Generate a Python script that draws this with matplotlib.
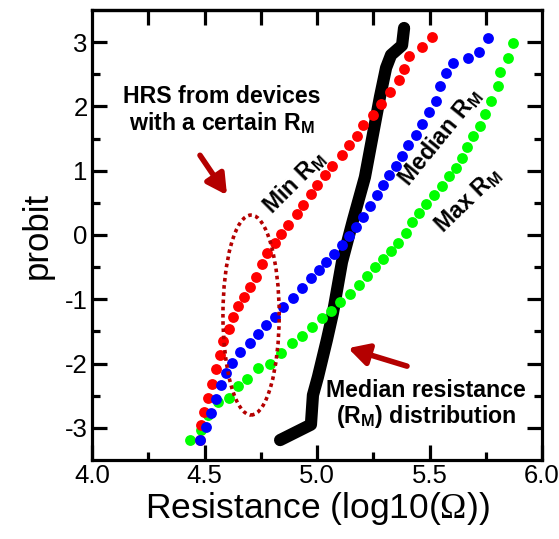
import matplotlib
matplotlib.use("Agg")
import matplotlib.pyplot as plt
from matplotlib.patches import Ellipse

plt.rcParams['font.family'] = ['Liberation Sans', 'DejaVu Sans']
plt.rcParams['mathtext.fontset'] = 'custom'
plt.rcParams['mathtext.rm'] = 'Liberation Serif'
plt.rcParams['mathtext.bf'] = 'Liberation Sans:bold'
plt.rcParams['axes.unicode_minus'] = False

# HRS distributions (log10 resistance vs probit)
min_x = [5.511, 5.467, 5.409, 5.387, 5.364, 5.324, 5.284, 5.249, 5.204, 5.178,
         5.142, 5.111, 5.067, 5.036, 5.000, 4.973, 4.938, 4.911, 4.871, 4.840,
         4.813, 4.778, 4.756, 4.729, 4.702, 4.676, 4.649, 4.627, 4.609, 4.582,
         4.569, 4.551, 4.533, 4.516, 4.498, 4.484, 4.480]
min_y = [3.08, 2.92, 2.78, 2.58, 2.41, 2.22, 2.04, 1.87, 1.71, 1.54,
         1.40, 1.24, 1.07, 0.93, 0.78, 0.64, 0.47, 0.33, 0.16, 0.02,
         -0.12, -0.28, -0.45, -0.65, -0.81, -0.96, -1.10, -1.28, -1.46, -1.65,
         -1.87, -2.08, -2.32, -2.53, -2.75, -2.95, -3.19]

med_x = [5.760, 5.720, 5.671, 5.604, 5.573, 5.547, 5.529, 5.498, 5.467, 5.440,
         5.404, 5.378, 5.351, 5.320, 5.293, 5.267, 5.236, 5.204, 5.173, 5.142,
         5.111, 5.076, 5.040, 5.009, 4.973, 4.933, 4.893, 4.849, 4.813, 4.773,
         4.738, 4.702, 4.658, 4.622, 4.596, 4.573, 4.551, 4.529, 4.507, 4.480]
med_y = [3.06, 2.85, 2.75, 2.67, 2.52, 2.32, 2.08, 1.91, 1.73, 1.56,
         1.40, 1.23, 1.07, 0.93, 0.78, 0.62, 0.45, 0.28, 0.12, -0.02,
         -0.16, -0.30, -0.42, -0.54, -0.67, -0.82, -0.98, -1.12, -1.28, -1.40,
         -1.54, -1.68, -1.82, -1.99, -2.15, -2.33, -2.55, -2.77, -2.99, -3.19]

max_x = [5.871, 5.849, 5.813, 5.804, 5.773, 5.747, 5.724, 5.693, 5.667, 5.644,
         5.618, 5.587, 5.556, 5.520, 5.484, 5.453, 5.422, 5.396, 5.360, 5.329,
         5.293, 5.258, 5.222, 5.187, 5.147, 5.102, 5.062, 5.022, 4.978, 4.933,
         4.889, 4.840, 4.791, 4.738, 4.689, 4.649, 4.609, 4.560, 4.516, 4.484,
         4.436]
max_y = [2.99, 2.75, 2.53, 2.32, 2.08, 1.88, 1.70, 1.54, 1.37, 1.20,
         1.04, 0.92, 0.76, 0.62, 0.48, 0.34, 0.20, 0.03, -0.12, -0.25,
         -0.37, -0.50, -0.64, -0.78, -0.92, -1.04, -1.18, -1.29, -1.43, -1.57,
         -1.68, -1.84, -2.01, -2.07, -2.24, -2.35, -2.53, -2.60, -2.80, -3.03,
         -3.19]

# median resistance distribution
rm_x = [4.836, 4.973, 4.982, 5.004, 5.044, 5.071, 5.111, 5.160, 5.213, 5.244,
        5.280, 5.307, 5.329, 5.378, 5.387]
rm_y = [-3.19, -2.95, -2.49, -2.21, -1.63, -1.21, -0.42, 0.23, 0.90, 1.48,
        2.15, 2.60, 2.80, 2.95, 3.22]

x_ticks = [4.0, 4.5, 5.0, 5.5, 6.0]
y_ticks = [-3, -2, -1, 0, 1, 2, 3]

dark_red = '#B40000'

fig = plt.figure(figsize=(5.59, 5.39), dpi=100)
ax = fig.add_axes([92 / 559, 79 / 539, 450 / 559, 450 / 539])

ax.plot(rm_x, rm_y, color='black', lw=8.8, solid_capstyle='round',
        solid_joinstyle='round', zorder=2)
ms = 7.8
ax.plot(max_x, max_y, 'o', color='#00FF00', ms=ms, mec='none', zorder=3)
ax.plot(min_x, min_y, 'o', color='#FF0000', ms=ms, mec='none', zorder=4)
ax.plot(med_x, med_y, 'o', color='#0000FF', ms=ms, mec='none', zorder=5)

ax.add_patch(Ellipse((4.707, -1.245), 0.25, 3.11, fill=False,
                     edgecolor=dark_red, lw=2.6, ls=(0, (1, 1)), zorder=6))

ax.set_xlim(4.0, 6.0)
ax.set_ylim(-3.5, 3.5)
ax.set_xticks(x_ticks)
ax.set_xticklabels([f'{v:.1f}' for v in x_ticks])
ax.set_yticks(y_ticks)
ax.set_xticks([4.25, 4.75, 5.25, 5.75], minor=True)
ax.set_yticks([-2.5, -1.5, -0.5, 0.5, 1.5, 2.5], minor=True)

for sp in ax.spines.values():
    sp.set_linewidth(2.3)
ax.tick_params(which='major', direction='in', length=11, width=2.3,
               labelsize=18.5, pad=3, right=True, top=False)
ax.tick_params(which='minor', direction='in', length=5.5, width=2.3,
               right=True, top=False)

top = ax.secondary_xaxis('top')
top.set_xticks([4.25, 4.5, 4.75, 5.0, 5.25, 5.5, 5.75])
top.tick_params(direction='in', length=11, width=2.3, labeltop=False)
top.spines['top'].set_linewidth(2.3)

ax.set_xlabel('Resistance (log10($\\mathrm{Ω}$))', fontsize=25.5, labelpad=1.5)
ax.set_ylabel('probit', fontsize=25, labelpad=8)

bold = dict(fontsize=16.7, fontweight='bold', ha='center', va='center')
ax.text(4.578, 1.93, 'HRS from devices\nwith a certain R$_\\mathbf{M}$',
        linespacing=1.1, **bold)
ax.text(4.898, 0.82, 'Min R$_\\mathbf{M}$', rotation=45, rotation_mode='anchor', **bold)
ax.text(5.547, 1.52, 'Median R$_\\mathbf{M}$', rotation=51, rotation_mode='anchor', **bold)
ax.text(5.671, 0.54, 'Max R$_\\mathbf{M}$', rotation=44, rotation_mode='anchor', **bold)
ax.text(5.484, -2.63, 'Median resistance\n(R$_\\mathbf{M}$) distribution',
        linespacing=1.05, **bold)

arrow = dict(arrowstyle='-|>,head_length=1.2,head_width=0.65', color=dark_red,
             lw=4, shrinkA=0, shrinkB=0)
ax.annotate('', xy=(4.600, 0.62), xytext=(4.480, 1.24), arrowprops=arrow)
ax.annotate('', xy=(5.138, -1.76), xytext=(5.400, -2.04), arrowprops=arrow)

fig.savefig('out.png', dpi=100)
